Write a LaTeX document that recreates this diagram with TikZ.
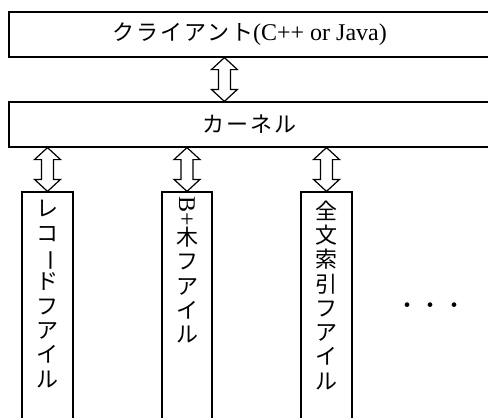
\documentclass[tikz,border=0pt]{standalone}
\usepackage{fontspec}
\setmainfont{Liberation Serif}
\newfontfamily\jp[LetterSpace=9]{Noto Sans CJK JP}
\newfontfamily\jpv{Noto Sans CJK JP}
\usetikzlibrary{calc}
\tikzset{
  box/.style={draw, line width=1.2pt, inner sep=0pt},
  jpt/.style={font=\jp\fontsize{22}{24}\selectfont},
  vlabel/.style={align=center, inner sep=0pt, anchor=north, font=\jpv\fontsize{22}{24.3}\selectfont},
  hollow/.style={draw, line width=1.2pt, line join=miter, to path={
    (\tikztostart) -- ++(13,12) -- ++(-7,0)
    -- ($(\tikztostart |- \tikztotarget)+(6,-12)$) -- ++(7,0)
    -- (\tikztostart |- \tikztotarget) -- ++(-13,-12) -- ++(7,0)
    -- ($(\tikztostart)+(-6,12)$) -- ++(-7,0) -- cycle}}
}
\newcommand{\vbar}{\rotatebox[origin=c]{-90}{ー}}
\begin{document}
\begin{tikzpicture}[x=1pt,y=-1pt]
\useasboundingbox (0,0) rectangle (488,418);
\clip (0,0) rectangle (488,418);
\node[box, minimum width=481pt, minimum height=45pt] (client) at (249.5,34.5)
  {\fontsize{24}{28}\selectfont{\jp\fontsize{22}{24}\selectfont クライアント}(C++ or Java)};
\node[box, minimum width=481pt, minimum height=45pt, jpt] (kernel) at (249.5,124.5) {カーネル};
\node[box, minimum width=51pt, minimum height=240pt] (rec) at (47.5,312) {};
\node[box, minimum width=50pt, minimum height=240pt] (bt) at (187,312) {};
\node[box, minimum width=51pt, minimum height=240pt] (ft) at (326.5,312) {};
\node[vlabel] (reclabel) at ([yshift=-9pt]rec.north) {レ\\コ\\\vbar\\ド\\フ\\ア\\イ\\ル};
\node[vlabel] (btlabel) at ([yshift=-5pt]bt.north)
  {\rotatebox[origin=c]{-90}{\rmfamily\fontsize{24}{24}\selectfont B+}\\木\\フ\\ア\\イ\\ル};
\node[vlabel] (ftlabel) at ([yshift=-9pt]ft.north) {全\\文\\索\\引\\フ\\ア\\イ\\ル};
\node[jpt] (dots) at (431,308) {・・・};
\coordinate (c1) at ([xshift=216pt]client.south west);
\coordinate (k1) at (kernel.south -| rec.north);
\coordinate (k2) at (kernel.south -| bt.north);
\coordinate (k3) at (kernel.south -| ft.north);
\draw[hollow] (c1) to (kernel.north);
\draw[hollow] (k1) to (rec.north);
\draw[hollow] (k2) to (bt.north);
\draw[hollow] (k3) to (ft.north);
\end{tikzpicture}
\end{document}
